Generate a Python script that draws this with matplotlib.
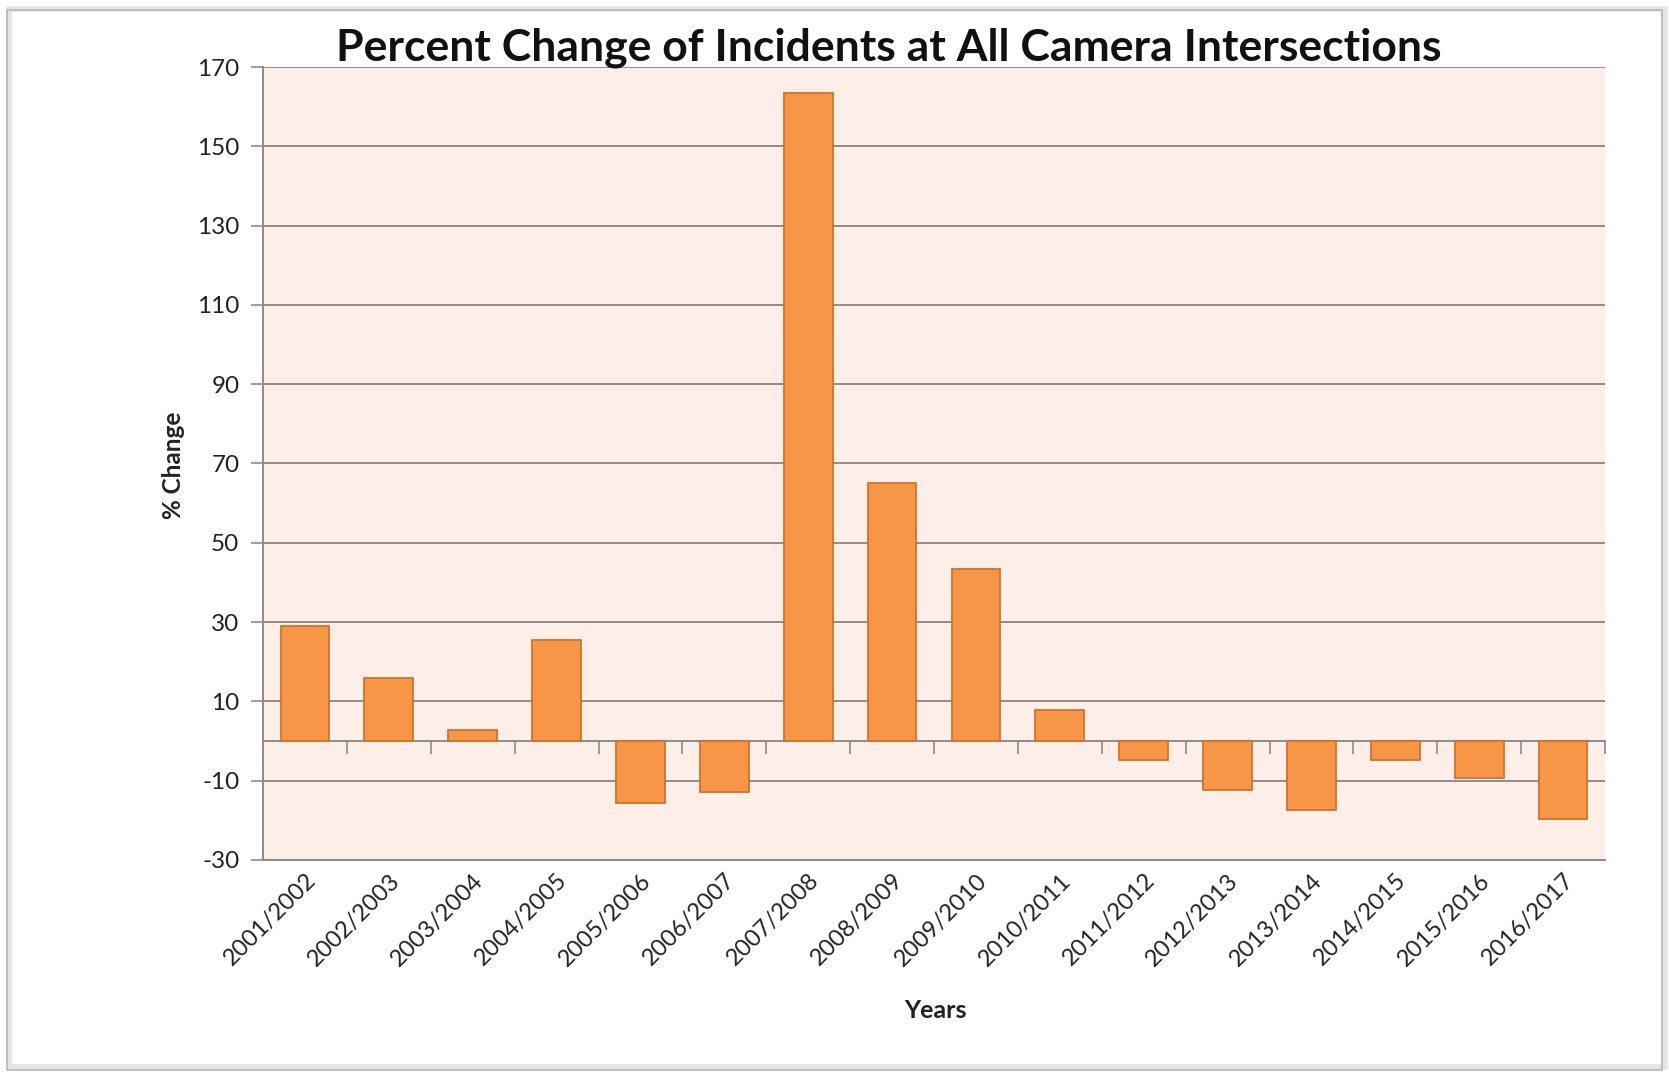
import matplotlib
matplotlib.use("Agg")
from matplotlib import pyplot as plt
from matplotlib.patches import Rectangle
import numpy as np

plt.rcParams['font.family'] = ['Lato', 'DejaVu Sans']
plt.rcParams['axes.unicode_minus'] = False

# data
periods = ["2001/2002", "2002/2003", "2003/2004", "2004/2005", "2005/2006",
           "2006/2007", "2007/2008", "2008/2009", "2009/2010", "2010/2011",
           "2011/2012", "2012/2013", "2013/2014", "2014/2015", "2015/2016",
           "2016/2017"]
pct_change = [29.0, 15.9, 2.7, 25.5, -15.5, -12.9, 163.5, 65.0, 43.5, 7.8,
              -4.8, -12.3, -17.4, -4.8, -9.4, -19.6]
yticks = list(range(-30, 171, 20))

W, H = 1669, 1073
fig = plt.figure(figsize=(W / 100.0, H / 100.0), dpi=100)

# outer chart border with a soft shadow
fig.patches.append(Rectangle((9 / W, 6 / H), 1656 / W, 1058 / H, transform=fig.transFigure,
                             facecolor="none", edgecolor="#e4e4e4", lw=4, zorder=0))
fig.patches.append(Rectangle((7 / W, 3 / H), 1655 / W, 1060 / H, transform=fig.transFigure,
                             facecolor="none", edgecolor="#b8b8b8", lw=1.2, zorder=0))

left, right = 263 / W, 1605 / W
bottom, top = (H - 860) / H, (H - 67) / H
ax = fig.add_axes([left, bottom, right - left, top - bottom])
ax.set_zorder(2)
ax.set_facecolor("#fdeee8")

x = np.arange(len(periods))
ax.bar(x, pct_change, width=0.58, color="#f79646", edgecolor="#cf7330", lw=1.3, zorder=3)

ax.set_xlim(-0.5, len(periods) - 0.5)
ax.set_ylim(-30, 170)
ax.set_yticks(yticks)
ax.tick_params(axis="y", length=9, width=1.2, color="#8c8c8c", pad=8, labelsize=17.5,
               labelcolor="#222222")
ax.yaxis.grid(True, color="#8c8c8c", lw=1.4, zorder=1)
ax.set_axisbelow(True)

for s in ["top", "right"]:
    ax.spines[s].set_visible(False)
for s in ["left", "bottom"]:
    ax.spines[s].set_color("#8c8c8c")
    ax.spines[s].set_linewidth(1.4)

ax.set_xticks(x)
ax.set_xticklabels(periods, rotation=45, ha="right", rotation_mode="anchor",
                   fontsize=17, color="#222222")
ax.tick_params(axis="x", length=0, pad=7)

# category axis drawn at zero with ticks between categories
zero_pos = (0 - (-30)) / 200.0
sec = ax.secondary_xaxis(zero_pos)
sec.set_xticks(np.arange(-0.5, len(periods), 1.0))
sec.set_xticklabels([])
sec.tick_params(axis="x", direction="out", length=9, width=1.2, color="#8c8c8c")
sec.spines["bottom"].set_color("#8c8c8c")
sec.spines["bottom"].set_linewidth(1.4)

fig.text(889 / W, 1 - 48 / H, "Percent Change of Incidents at All Camera Intersections",
         ha="center", va="center", fontsize=32, fontweight="bold", color="#111111")
fig.text(173 / W, 1 - 465 / H, "% Change", rotation=90, ha="center", va="center",
         fontsize=17.5, fontweight="bold", color="#222222")
fig.text(935 / W, 1 - 1011 / H, "Years", ha="center", va="center",
         fontsize=18, fontweight="bold", color="#222222")

fig.savefig("out.png", dpi=100)
